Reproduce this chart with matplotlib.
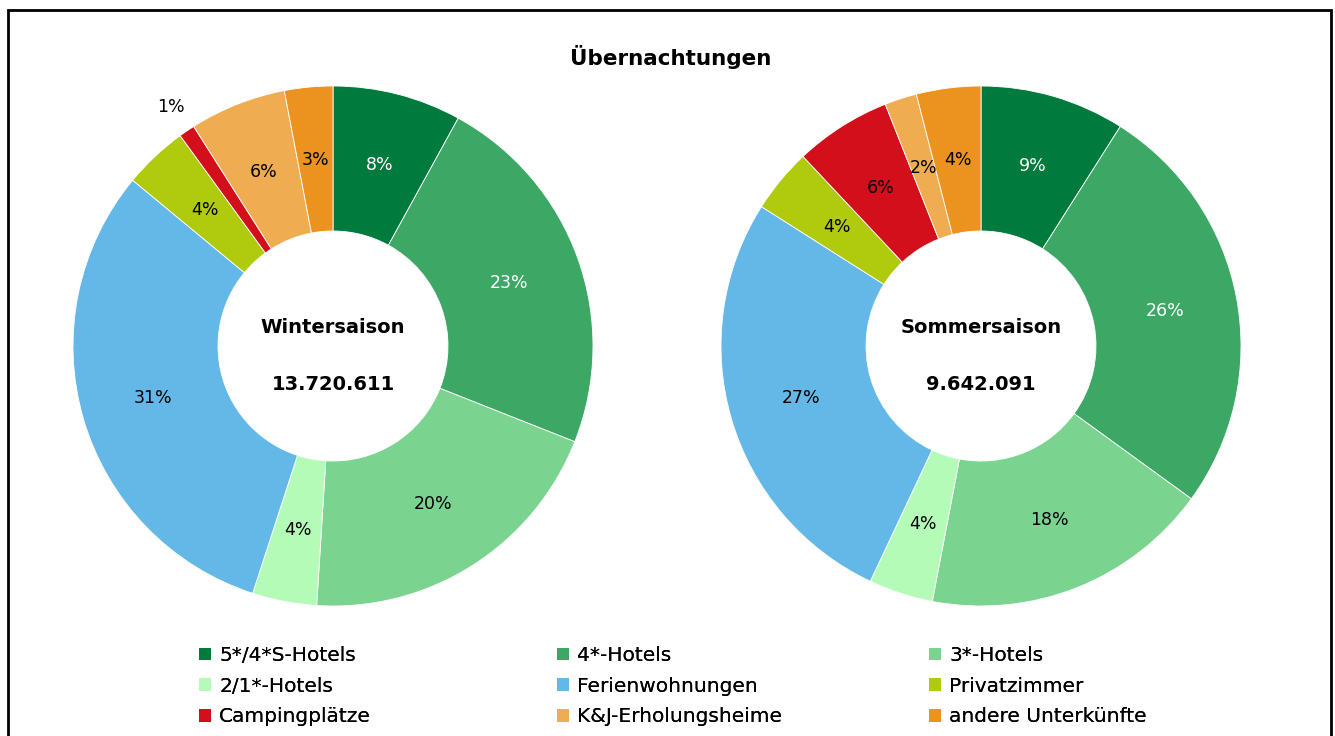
import numpy as np
import matplotlib.pyplot as plt
from matplotlib.patches import Patch, Rectangle

# Daten
categories = ['5*/4*S-Hotels', '4*-Hotels', '3*-Hotels', '2/1*-Hotels',
              'Ferienwohnungen', 'Privatzimmer', 'Campingplätze',
              'K&J-Erholungsheime', 'andere Unterkünfte']
winter = [8, 23, 20, 4, 31, 4, 1, 6, 3]
summer = [9, 26, 18, 4, 27, 4, 6, 2, 4]
colors = ['#007A3D', '#3DA865', '#7AD490', '#B5FBB8', '#63B8E8',
          '#B0CB0E', '#D20F1A', '#F0AC50', '#EC921E']
label_colors = ['white', 'white', 'black', 'black', 'black',
                'black', 'black', 'black', 'black']
season_names = ['Wintersaison', 'Sommersaison']
season_totals = ['13.720.611', '9.642.091']

plt.rcParams['font.family'] = ['DejaVu Sans']

W, H = 1335, 736
fig = plt.figure(figsize=(W / 100, H / 100), dpi=100)

# Rahmen
fig.add_artist(Rectangle((8 / W, -0.05), (1331 - 8) / W, 0.05 + (736 - 10) / H,
                         transform=fig.transFigure, fill=False,
                         edgecolor='black', linewidth=2, clip_on=False))

fig.text(671 / W, 1 - 57 / H, 'Übernachtungen', ha='center', va='center',
         fontsize=15.5, fontweight='bold')

R = 260
hole = 115
centers = [(333, 346), (981, 346)]

for (cx, cy), values, name, total in zip(centers, [winter, summer],
                                         season_names, season_totals):
    ax = fig.add_axes([(cx - R) / W, (H - cy - R) / H, 2 * R / W, 2 * R / H])
    wedges, _ = ax.pie(values, colors=colors, startangle=90, counterclock=False,
                       radius=1, wedgeprops=dict(width=1 - hole / R,
                                                 edgecolor='white', linewidth=0.6))
    ax.set_xlim(-1, 1)
    ax.set_ylim(-1, 1)
    ax.set_aspect('equal')
    ax.axis('off')

    # Prozentwerte, sehr kleine Segmente außerhalb
    for w, v, lc in zip(wedges, values, label_colors):
        ang = np.deg2rad((w.theta1 + w.theta2) / 2)
        r = 0.72 if v >= 2 else 1.11
        col = lc if v >= 2 else 'black'
        ax.text(r * np.cos(ang), r * np.sin(ang), f'{v}%', ha='center',
                va='center', fontsize=12.5, color=col)

    ax.text(0, 0.07, name, ha='center', va='center', fontsize=14,
            fontweight='bold')
    ax.text(0, -0.15, total, ha='center', va='center', fontsize=14,
            fontweight='bold')

# Legende in drei Spalten
handles = [Patch(facecolor=c, edgecolor='none') for c in colors]
xs = [199, 557, 929]
for i, x in enumerate(xs):
    hs = [handles[i], handles[i + 3], handles[i + 6]]
    ls = [categories[i], categories[i + 3], categories[i + 6]]
    leg = fig.legend(hs, ls, loc='upper left', bbox_to_anchor=(x / W, 1 - 646 / H),
                     frameon=False, fontsize=14.5, handlelength=0.6,
                     handleheight=0.6, handletextpad=0.4, labelspacing=0.58,
                     borderaxespad=0, borderpad=0)
    fig.add_artist(leg)

fig.savefig('out.png', dpi=100)
